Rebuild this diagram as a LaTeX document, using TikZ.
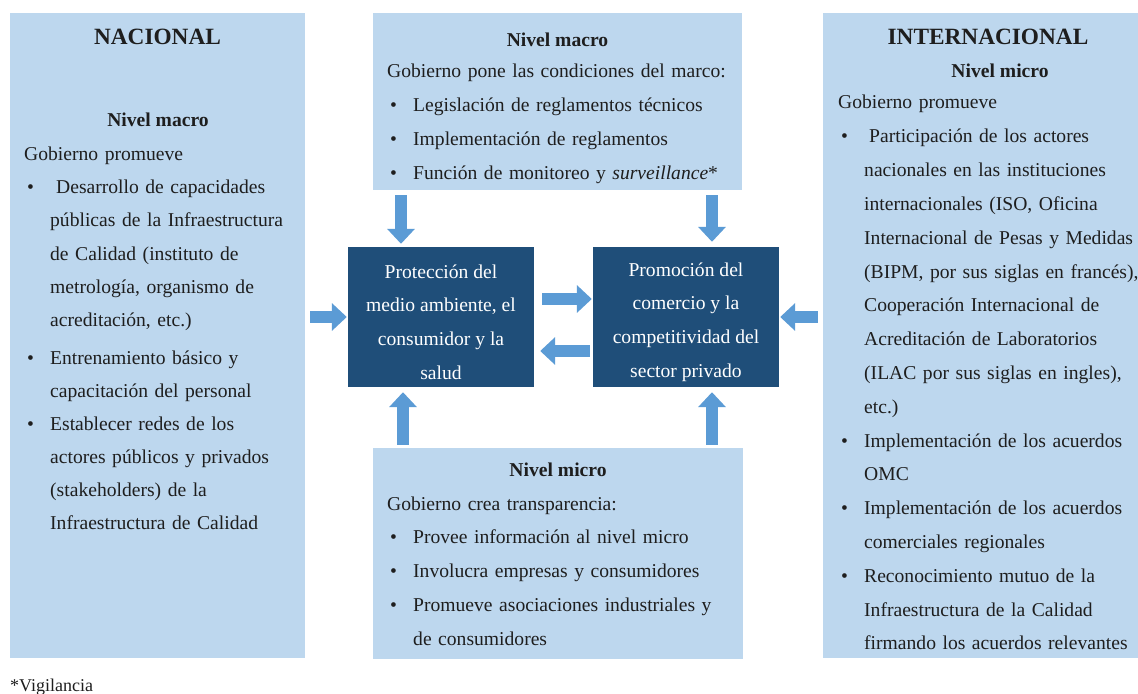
\documentclass[tikz,border=0pt]{standalone}
\usepackage{fontspec}
\setmainfont{Liberation Serif}
\usetikzlibrary{arrows.meta}

\definecolor{panel}{HTML}{BDD7EE}
\definecolor{core}{HTML}{1F4E79}
\definecolor{flow}{HTML}{5B9BD5}
\definecolor{ink}{HTML}{1E1E1E}

\newcommand{\bodyfont}{\fontsize{19.6bp}{33.8bp}\selectfont}
\newcommand{\leftfont}{\fontsize{19.6bp}{33bp}\selectfont}
\newcommand{\titlefont}{\fontsize{23.3bp}{28bp}\selectfont\bfseries}
% bulleted paragraph with hanging indent; lines are broken by hand with \newline
\newcommand{\bitem}[1]{\par\hangindent=26bp\hangafter=1\noindent\makebox[26bp][l]{\hspace{3bp}\textbullet}#1\par}

\tikzset{
  panelbox/.style={fill=panel, draw=none, inner sep=0pt},
  corebox/.style={fill=core, draw=none, inner sep=0pt, minimum width=186bp, minimum height=140bp},
  coretext/.style={text=white, inner sep=0pt, align=center, font=\bodyfont},
  heading/.style={anchor=base, inner sep=0pt, text=ink, font=\titlefont},
  subhead/.style={anchor=base, inner sep=0pt, text=ink, font=\bodyfont\bfseries},
  body/.style={anchor=base west, inner sep=0pt, text=ink, text width=400bp, font=\bodyfont},
  flowarrow/.style={draw=flow, line width=12bp, -{Triangle[width=27bp,length=15bp]}}
}

\begin{document}
\begin{tikzpicture}[x=1bp, y=-1bp]
\useasboundingbox[fill=white] (0,0) rectangle (1138,694);

% light panels
\node[panelbox, minimum width=295bp, minimum height=645bp] (nac) at (157.5,335.5) {};
\node[panelbox, minimum width=369bp, minimum height=177bp] (macro) at (557.5,101.5) {};
\node[panelbox, minimum width=370bp, minimum height=211bp] (micro) at (558,553.5) {};
\node[panelbox, minimum width=315bp, minimum height=645bp] (intl) at (980.5,335.5) {};

% central dark boxes and their texts
\node[corebox] (prot) at (441,317) {};
\node[corebox] (prom) at (686,317) {};
\node[coretext] (protT) at ([yshift=-5bp]prot.center)
  {Protección del\\medio ambiente, el\\consumidor y la\\salud};
\node[coretext] (promT) at ([yshift=-5bp]prom.center)
  {Promoción del\\comercio y la\\competitividad del\\sector privado};

% NACIONAL
\node[heading] (nacT) at (157.5,45) {NACIONAL};
\node[subhead] (nacS) at (158,127) {Nivel macro};
\node[body, font=\leftfont] (nacB) at (24,161) {\parindent=0pt
Gobierno promueve
\bitem{\hspace{6bp}Desarrollo de capacidades\newline públicas de la Infraestructura\newline de Calidad (instituto de\newline metrología, organismo de\newline acreditación, etc.)}
\vspace{5bp}
\bitem{Entrenamiento básico y\newline capacitación del personal}
\bitem{Establecer redes de los\newline actores públicos y privados\newline (stakeholders) de la\newline Infraestructura de Calidad}};

% Nivel macro (top)
\node[subhead] (macS) at (557.5,47) {Nivel macro};
\node[body] (macB) at (387,78) {\parindent=0pt
Gobierno pone las condiciones del marco:
\bitem{Legislación de reglamentos técnicos}
\bitem{Implementación de reglamentos}
\bitem{Función de monitoreo y \textit{surveillance}*}};

% Nivel micro (bottom)
\node[subhead] (micS) at (558,476) {Nivel micro};
\node[body] (micB) at (387,510) {\parindent=0pt
Gobierno crea transparencia:
\bitem{Provee información al nivel micro}
\bitem{Involucra empresas y consumidores}
\bitem{Promueve asociaciones industriales y\newline de consumidores}};

% INTERNACIONAL
\node[heading] (intT) at (988,45) {INTERNACIONAL};
\node[subhead] (intS) at (1000,78) {Nivel micro};
\node[body] (intB) at (838,109) {\parindent=0pt
Gobierno promueve
\bitem{\hspace{5bp}Participación de los actores\newline nacionales en las instituciones\newline internacionales (ISO, Oficina\newline Internacional de Pesas y Medidas\newline (BIPM, por sus siglas en francés),\newline Cooperación Internacional de\newline Acreditación de Laboratorios\newline (ILAC por sus siglas en ingles),\newline etc.)}
\bitem{Implementación de los acuerdos\newline OMC}
\bitem{Implementación de los acuerdos\newline comerciales regionales}
\bitem{Reconocimiento mutuo de la\newline Infraestructura de la Calidad\newline firmando los acuerdos relevantes}};

% footnote
\node[anchor=base west, inner sep=0pt, text=ink, font=\fontsize{18bp}{20bp}\selectfont] (note) at (10,691) {*Vigilancia};

% flows into the central boxes
\draw[flowarrow, shorten <=5bp, shorten >=1bp] (nac.east |- prot.west) -- (prot.west);
\draw[flowarrow, shorten <=5bp, shorten >=1bp] (intl.west |- prom.east) -- (prom.east);
\draw[flowarrow, shorten <=5bp, shorten >=3bp] ([xshift=-40bp]prot.north |- macro.south) -- ([xshift=-40bp]prot.north);
\draw[flowarrow, shorten <=5bp, shorten >=5bp] ([xshift=26bp]prom.north |- macro.south) -- ([xshift=26bp]prom.north);
\draw[flowarrow, shorten <=3bp, shorten >=5bp] ([xshift=-38bp]prot.south |- micro.north) -- ([xshift=-38bp]prot.south);
\draw[flowarrow, shorten <=3bp, shorten >=5bp] ([xshift=26bp]prom.south |- micro.north) -- ([xshift=26bp]prom.south);

% exchange between the central boxes
\draw[flowarrow, shorten <=8bp, shorten >=1bp] ([yshift=18bp]prot.east) -- ([yshift=18bp]prom.west);
\draw[flowarrow, shorten <=3bp, shorten >=6bp] ([yshift=-34bp]prom.west) -- ([yshift=-34bp]prot.east);
\end{tikzpicture}
\end{document}
